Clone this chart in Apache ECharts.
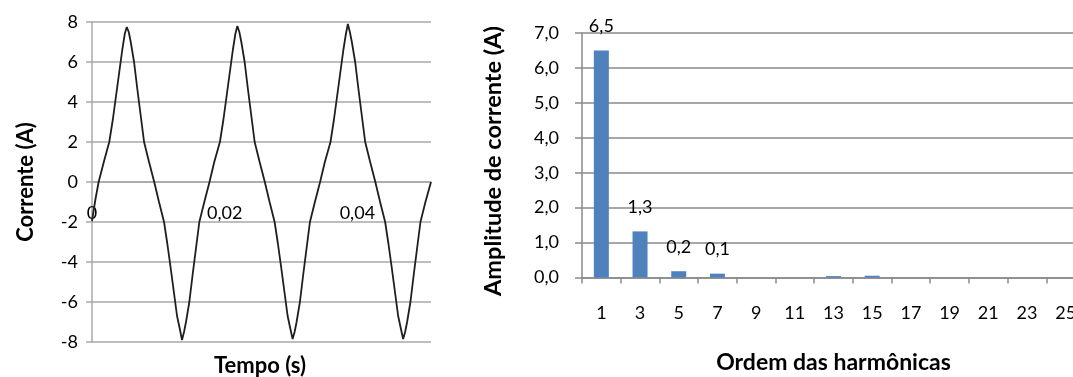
<!DOCTYPE html>
<html>
<head>
<meta charset="utf-8">
<script src="https://cdn.jsdelivr.net/npm/echarts@6/dist/echarts.min.js"></script>
<style>
html,body{margin:0;padding:0;background:#fff;}
#chart{width:1073px;height:377px;}
</style>
</head>
<body>
<div id="chart"></div>
<script>
// Left chart: current waveform (time in s, current in A)
const timeS = [
  0, 0.00050, 0.00100, 0.00178, 0.00260, 0.00313, 0.00358, 0.00411, 0.00456, 0.00494,
  0.00524, 0.00554, 0.00584, 0.00634, 0.00685, 0.00735, 0.00785, 0.00860, 0.00938, 0.01010,
  0.01086, 0.01136, 0.01186, 0.01238, 0.01282, 0.01327, 0.01357, 0.01387, 0.01417, 0.01467,
  0.01518, 0.01568, 0.01618, 0.01693, 0.01771, 0.01843, 0.01928,
  0.01980, 0.02025, 0.02078, 0.02123, 0.02161, 0.02191, 0.02221, 0.02251, 0.02301, 0.02352,
  0.02402, 0.02452, 0.02527, 0.02605, 0.02677, 0.02753, 0.02803, 0.02853, 0.02905, 0.02949,
  0.02994, 0.03024, 0.03054, 0.03084, 0.03134, 0.03185, 0.03235, 0.03285, 0.03360, 0.03438,
  0.03510, 0.03595,
  0.03646, 0.03691, 0.03744, 0.03789, 0.03827, 0.03857, 0.03887, 0.03917, 0.03967, 0.04018,
  0.04068, 0.04118, 0.04193, 0.04271, 0.04343, 0.04419, 0.04469, 0.04519, 0.04571, 0.04615,
  0.04660, 0.04690, 0.04720, 0.04750, 0.04800, 0.04851, 0.04901, 0.04951, 0.05026, 0.05110
];
const currentA = [
  -1.95, -0.90, 0.00, 1.00, 2.00, 3.10, 4.20, 5.50, 6.60, 7.40,
  7.75, 7.50, 7.00, 6.00, 4.60, 3.30, 2.00, 1.00, 0.00, -1.00,
  -2.00, -3.10, -4.30, -5.60, -6.70, -7.40, -7.90, -7.50, -7.00, -6.00,
  -4.60, -3.30, -2.00, -1.00, 0.00, 1.00, 2.00,
  3.10, 4.20, 5.50, 6.60, 7.40, 7.80, 7.50, 7.00, 6.00, 4.60,
  3.30, 2.00, 1.00, 0.00, -1.00, -2.00, -3.10, -4.30, -5.60, -6.70,
  -7.40, -7.85, -7.50, -7.00, -6.00, -4.60, -3.30, -2.00, -1.00, 0.00,
  1.00, 2.00,
  3.10, 4.20, 5.50, 6.60, 7.40, 7.90, 7.50, 7.00, 6.00, 4.60,
  3.30, 2.00, 1.00, 0.00, -1.00, -2.00, -3.10, -4.30, -5.60, -6.70,
  -7.40, -7.85, -7.50, -7.00, -6.00, -4.60, -3.30, -2.00, -1.00, 0.00
];

// Right chart: harmonic spectrum
const harmonicOrders = ['1','3','5','7','9','11','13','15','17','19','21','23','25'];
const harmonicAmps = [6.5, 1.32, 0.18, 0.11, 0, 0, 0.04, 0.05, 0, 0, 0, 0, 0];

// Titles
const leftYTitle = 'Corrente (A)';
const leftXTitle = 'Tempo (s)';
const rightYTitle = 'Amplitude de corrente (A)';
const rightXTitle = 'Ordem das harmônicas';

const FONT = 'Lato, "Liberation Sans", sans-serif';
const gridGrayL = '#a8a8a8';
const gridGrayR = '#8a8a8a';

const chart = echarts.init(document.getElementById('chart'), null, {renderer: 'canvas'});

const option = {
  animation: false,
  backgroundColor: '#fff',
  textStyle: {fontFamily: FONT, color: '#000'},
  grid: [
    {left: 92, top: 22, width: 339, height: 320, outerBoundsMode: 'none', containLabel: false},
    {left: 582, top: 33, width: 503, height: 244.5, outerBoundsMode: 'none', containLabel: false}
  ],
  xAxis: [
    {
      gridIndex: 0, type: 'value', min: 0, max: 0.0511, interval: 0.02,
      position: 'bottom', offset: -160,
      axisLine: {show: true, onZero: false, lineStyle: {color: gridGrayL, width: 1.5}},
      axisTick: {show: false},
      splitLine: {show: false},
      axisLabel: {
        fontFamily: FONT, fontSize: 18, color: '#000', margin: 22,
        showMaxLabel: false, hideOverlap: false,
        formatter: v => (Math.abs(v / 0.02 - Math.round(v / 0.02)) < 1e-6) ? String(+v.toFixed(2)).replace('.', ',') : ''
      }
    },
    {
      gridIndex: 1, type: 'category', data: harmonicOrders,
      axisLine: {show: true, lineStyle: {color: gridGrayR, width: 1.5}},
      axisTick: {show: true, length: 6, lineStyle: {color: gridGrayR, width: 1.5}},
      axisLabel: {fontFamily: FONT, fontSize: 18, color: '#000', margin: 27, interval: 0},
      name: rightXTitle, nameLocation: 'middle', nameGap: 74,
      nameTextStyle: {fontFamily: FONT, fontSize: 23, fontWeight: 'bold', color: '#000'}
    }
  ],
  yAxis: [
    {
      gridIndex: 0, type: 'value', min: -8, max: 8, interval: 2,
      axisLine: {show: true, lineStyle: {color: gridGrayL, width: 1.5}},
      axisTick: {show: true, length: 6, lineStyle: {color: gridGrayL, width: 1.5}},
      splitLine: {show: true, lineStyle: {color: gridGrayL, width: 1.5}},
      axisLabel: {fontFamily: FONT, fontSize: 18, color: '#000', margin: 14}
    },
    {
      gridIndex: 1, type: 'value', min: 0, max: 7, interval: 1,
      axisLine: {show: true, lineStyle: {color: gridGrayR, width: 1.5}},
      axisTick: {show: true, length: 7, lineStyle: {color: gridGrayR, width: 1.5}},
      splitLine: {show: true, lineStyle: {color: gridGrayR, width: 1.5}},
      axisLabel: {fontFamily: FONT, fontSize: 18, color: '#000', margin: 23,
        formatter: v => v.toFixed(1).replace('.', ',')}
    }
  ],
  series: [
    {
      type: 'line', xAxisIndex: 0, yAxisIndex: 0,
      data: timeS.map((t, i) => [t, currentA[i]]),
      showSymbol: false, smooth: false,
      lineStyle: {color: '#1e1e1e', width: 1.8}
    },
    {
      type: 'bar', xAxisIndex: 1, yAxisIndex: 1,
      data: harmonicAmps, barWidth: 15,
      itemStyle: {color: '#4f81bd'},
      label: {
        show: true, position: 'top', distance: 15,
        fontFamily: FONT, fontSize: 18, color: '#000',
        formatter: p => p.value >= 0.095 ? p.value.toFixed(1).replace('.', ',') : ''
      }
    }
  ],
  graphic: [
    {type: 'text', x: 26, y: 182, rotation: Math.PI / 2,
      style: {text: leftYTitle, fontFamily: FONT, fontSize: 22, fontWeight: 'bold', fill: '#000', align: 'center', verticalAlign: 'middle'}},
    {type: 'text', x: 260, y: 366,
      style: {text: leftXTitle, fontFamily: FONT, fontSize: 22, fontWeight: 'bold', fill: '#000', align: 'center', verticalAlign: 'middle'}},
    {type: 'text', x: 493, y: 161, rotation: Math.PI / 2,
      style: {text: rightYTitle, fontFamily: FONT, fontSize: 23.5, fontWeight: 'bold', fill: '#000', align: 'center', verticalAlign: 'middle'}}
  ]
};
chart.setOption(option);
</script>
</body>
</html>
